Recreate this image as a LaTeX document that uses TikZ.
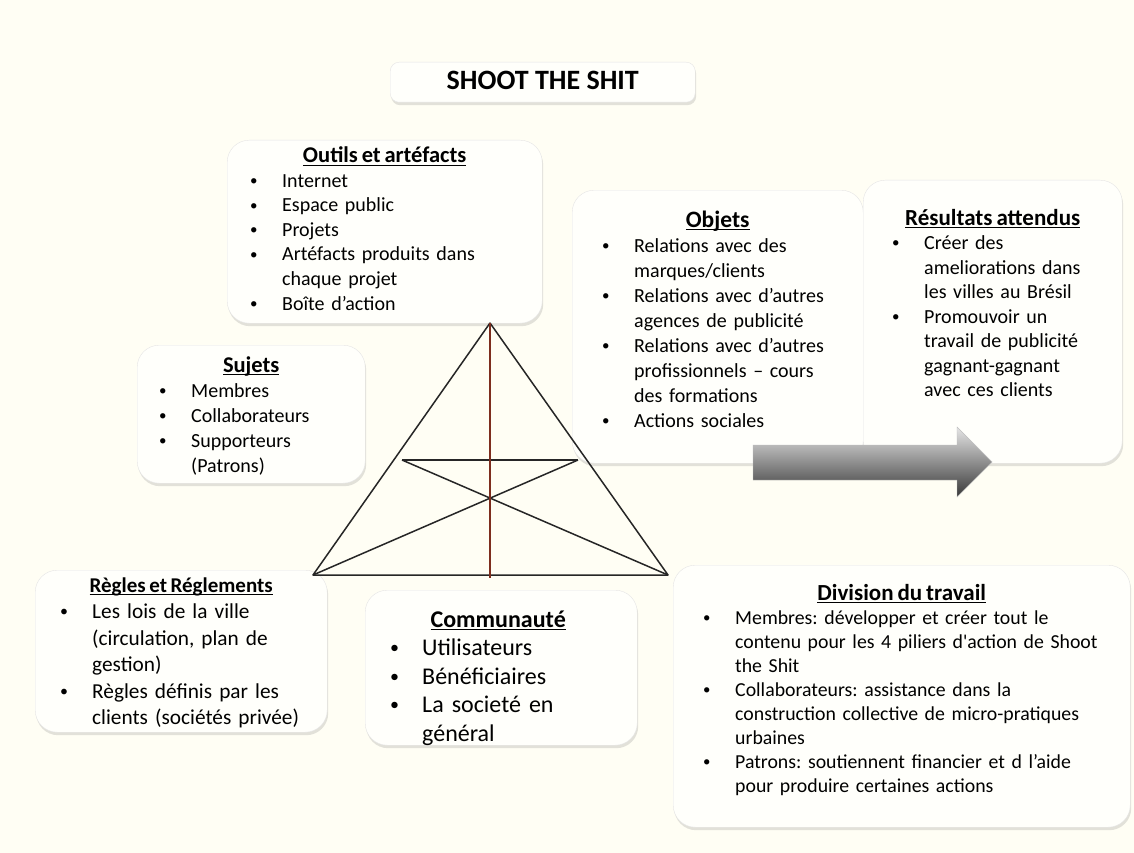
\documentclass[tikz,border=0pt]{standalone}
\usepackage{fontspec}
\setmainfont{Carlito}[Ligatures=TeXOff]
\usetikzlibrary{shadows}

\definecolor{fond}{RGB}{255,254,244}
\definecolor{papier}{RGB}{255,255,251}
\definecolor{brique}{RGB}{125,45,30}

\newcommand{\puce}{\makebox[32pt][l]{\raisebox{0.08em}{\scalebox{0.75}{\textbullet}}}}
\newcommand{\suite}{\hspace*{32pt}}
\newcommand{\souligne}[1]{\setbox0=\hbox{#1}\rlap{\rule[-2.8pt]{\wd0}{1pt}}\box0}
\newcommand{\titre}[2]{\makebox[\linewidth]{\souligne{\fontsize{#1}{#1}\selectfont\bfseries\spaceskip=0.17em #2}}}

\begin{document}
\frenchspacing
\begin{tikzpicture}[x=1pt, y=-1pt,
    cadre/.style={rectangle, rounded corners=22pt, draw=black!10,
      fill=papier, anchor=north west,
      drop shadow={shadow xshift=1pt, shadow yshift=-3pt,
        opacity=0.25, fill=black!45}},
    texte/.style={anchor=base west, inner sep=0pt, align=left},
    trait/.style={line width=1.5pt, black!85},
    axe/.style={line width=1.5pt, brique}
  ]
    \fill[fond] (0,0) rectangle (1134,853);
    \useasboundingbox (0,0) rectangle (1134,853);

    % Titre
    \node[cadre, rounded corners=9pt, minimum width=305pt,
      minimum height=40pt] (entete) at (390,62)
      {\raisebox{4.5pt}{\fontsize{28}{30}\selectfont\bfseries SHOOT THE SHIT}};

    % Cadres
    \node[cadre, minimum width=315pt, minimum height=183pt] (outils) at (227,140) {};
    \node[cadre, minimum width=228pt, minimum height=138pt] (sujets) at (137,345) {};
    \node[cadre, minimum width=291pt, minimum height=273pt] (objets) at (572,190) {};
    \node[cadre, minimum width=259pt, minimum height=283pt] (resultats) at (863,180) {};
    \node[cadre, minimum width=292pt, minimum height=162pt] (regles) at (35,570) {};
    \node[cadre, minimum width=272pt, minimum height=155pt] (communaute) at (365,590) {};
    \node[cadre, minimum width=457pt, minimum height=262pt] (division) at (673,565) {};

    % Textes
    \node[texte, text width=269pt, font=\fontsize{20}{24.5}\selectfont]
      (outilsT) at (250,163) {\titre{22.5}{Outils et artéfacts}\\
      \puce Internet\\
      \puce Espace public\\
      \puce Projets\\
      \puce Artéfacts produits dans\\
      \suite chaque projet\\
      \puce Boîte d’action};
    \node[texte, text width=184pt, font=\fontsize{20}{25}\selectfont]
      (sujetsT) at (159,372) {\titre{22.5}{Sujets}\\
      \puce Membres\\
      \puce Collaborateurs\\
      \puce Supporteurs\\
      \suite (Patrons)};
    \node[texte, text width=231pt, font=\fontsize{20}{25}\selectfont]
      (objetsT) at (602,227) {\titre{23.5}{Objets}\\
      \puce Relations avec des\\
      \suite marques/clients\\
      \puce Relations avec d’autres\\
      \suite agences de publicité\\
      \puce Relations avec d’autres\\
      \suite profissionnels – cours\\
      \suite des formations\\
      \puce Actions sociales};
    \node[texte, text width=201pt, font=\fontsize{20}{24.5}\selectfont]
      (resultatsT) at (892,225) {\titre{23}{Résultats attendus}\\
      \puce Créer des\\
      \suite ameliorations dans\\
      \suite les villes au Brésil\\
      \puce Promouvoir un\\
      \suite travail de publicité\\
      \suite gagnant-gagnant\\
      \suite avec ces clients};
    \node[texte, text width=242pt, font=\fontsize{21.3}{26.5}\selectfont]
      (reglesT) at (60,592) {\titre{21}{Règles et Réglements}\\
      \puce Les lois de la ville\\
      \suite (circulation, plan de\\
      \suite gestion)\\
      \puce Règles définis par les\\
      \suite clients (sociétés privée)};
    \node[texte, text width=216pt, font=\fontsize{24}{28.5}\selectfont]
      (communauteT) at (390,627) {\titre{24}{Communauté}\\
      \puce Utilisateurs\\
      \puce Bénéficiaires\\
      \puce La societé en\\
      \suite général};
    \node[texte, text width=397pt, font=\fontsize{19.8}{24}\selectfont]
      (divisionT) at (703,600) {\titre{23}{Division du travail}\\
      \puce Membres: développer et créer tout le\\
      \suite contenu pour les 4 piliers d'action de Shoot\\
      \suite the Shit\\
      \puce Collaborateurs: assistance dans la\\
      \suite construction collective de micro-pratiques\\
      \suite urbaines\\
      \puce Patrons: soutiennent financier et d l’aide\\
      \suite pour produire certaines actions};

    % Triangle
    \coordinate (sommet) at (490,323);
    \coordinate (gauche) at (313,575);
    \coordinate (droite) at (668,575);
    \coordinate (hg) at (402,460);
    \coordinate (hd) at (578,460);
    \coordinate (pied) at (490,578);
    \draw[trait, line join=round] (sommet) -- (gauche) -- (droite) -- cycle;
    \draw[trait] (hg) -- (hd);
    \draw[trait] (hg) -- (droite);
    \draw[trait] (hd) -- (gauche);
    \draw[axe] (sommet) -- (pied);

    % Fleche
    \shade[top color=black!10, bottom color=black!78, draw=black!25]
      (753,445) -- (957,445) -- (957,427) -- (992,462)
      -- (957,497) -- (957,480) -- (753,480) -- cycle;
  \end{tikzpicture}
\end{document}
